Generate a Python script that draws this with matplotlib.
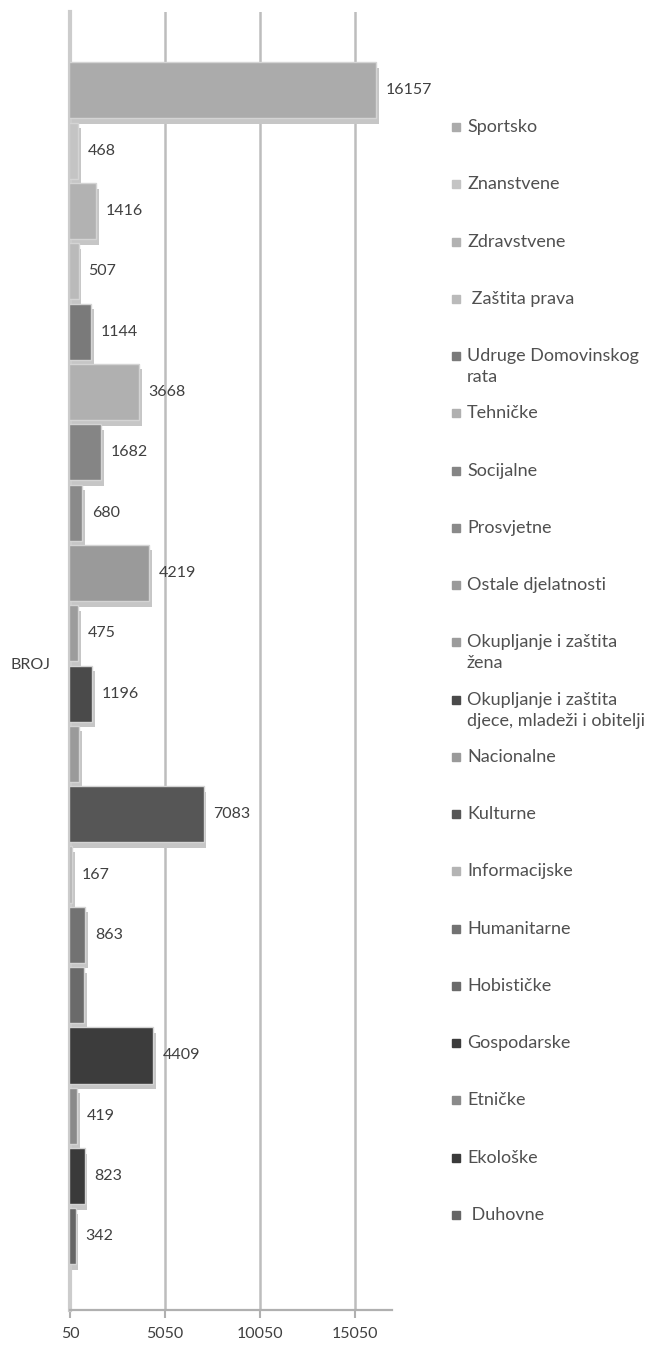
import matplotlib
matplotlib.use('Agg')
import matplotlib.pyplot as plt
import matplotlib.patheffects as pe
from matplotlib.patches import Rectangle

categories = [
    'Sportsko', 'Znanstvene', 'Zdravstvene', ' Zaštita prava',
    'Udruge Domovinskog\nrata', 'Tehničke', 'Socijalne', 'Prosvjetne',
    'Ostale djelatnosti', 'Okupljanje i zaštita\nžena',
    'Okupljanje i zaštita\ndjece, mladeži i obitelji', 'Nacionalne',
    'Kulturne', 'Informacijske', 'Humanitarne', 'Hobističke',
    'Gospodarske', 'Etničke', 'Ekološke', ' Duhovne',
]
values = [16157, 468, 1416, 507, 1144, 3668, 1682, 680, 4219, 475,
          1196, 550, 7083, 167, 863, 780, 4409, 419, 823, 342]
# labels that are not shown in the original
hidden = ['Nacionalne', 'Hobističke']
colors = ['#ababab', '#c4c4c4', '#b2b2b2', '#bababa', '#7a7a7a',
          '#b0b0b0', '#858585', '#8a8a8a', '#9a9a9a', '#9c9c9c',
          '#4a4a4a', '#9a9a9a', '#565656', '#b4b4b4', '#727272',
          '#6a6a6a', '#3c3c3c', '#8a8a8a', '#3a3a3a', '#666666']
xticks = [50, 5050, 10050, 15050]

plt.rcParams['font.family'] = ['Lato', 'DejaVu Sans']

W, H = 666, 1348
fig = plt.figure(figsize=(W / 100, H / 100), dpi=100)
ax = fig.add_axes([70 / W, 38 / H, 322 / W, 1298 / H])

pos = list(range(len(values)))
bars = ax.barh(pos, values, height=0.93, color=colors,
               edgecolor='#d4d4d4', linewidth=1.0, zorder=3)
for b in bars:
    b.set_path_effects([
        pe.SimplePatchShadow(offset=(2, -4), shadow_rgbFace='#c6c6c6',
                             alpha=1.0),
        pe.Normal()])

for i, (name, v) in enumerate(zip(categories, values)):
    if name.strip() in hidden:
        continue
    ax.annotate(str(v), xy=(v, i), xytext=(7, 0),
                textcoords='offset points', va='center', ha='left',
                fontsize=11.5, color='#404040', zorder=5)

ax.set_xlim(50, 17000)
ax.set_ylim(20.22, -1.30)
ax.set_xticks(xticks)
ax.set_xticklabels([str(t) for t in xticks])
ax.set_yticks([(len(values) - 1) / 2])
ax.set_yticklabels(['BROJ'])
ax.tick_params(axis='y', length=0, pad=14, labelsize=11.5, labelcolor='#404040')
ax.tick_params(axis='x', length=6, width=1.5, color='#b0b0b0',
               labelsize=11.5, labelcolor='#404040', pad=6)
ax.grid(axis='x', color='#bdbdbd', linewidth=1.8, zorder=0)
ax.set_axisbelow(True)
for s in ['top', 'right']:
    ax.spines[s].set_visible(False)
ax.spines['left'].set_color('#cccccc')
ax.spines['left'].set_linewidth(3)
ax.spines['bottom'].set_color('#b0b0b0')
ax.spines['bottom'].set_linewidth(1.6)

# legend, laid out like the Excel original (one slot per entry)
for i, (name, c) in enumerate(zip(categories, colors)):
    yc = 127 + i * 57.26
    fig.patches.append(Rectangle((452 / W, 1 - (yc + 4) / H), 8 / W, 8 / H,
                                 transform=fig.transFigure, color=c))
    for j, line in enumerate(name.split('\n')):
        fig.text(467 / W, 1 - (yc + j * 21) / H, line, va='center',
                 ha='left', fontsize=13, color='#505050')

plt.savefig('out.png', dpi=100)
